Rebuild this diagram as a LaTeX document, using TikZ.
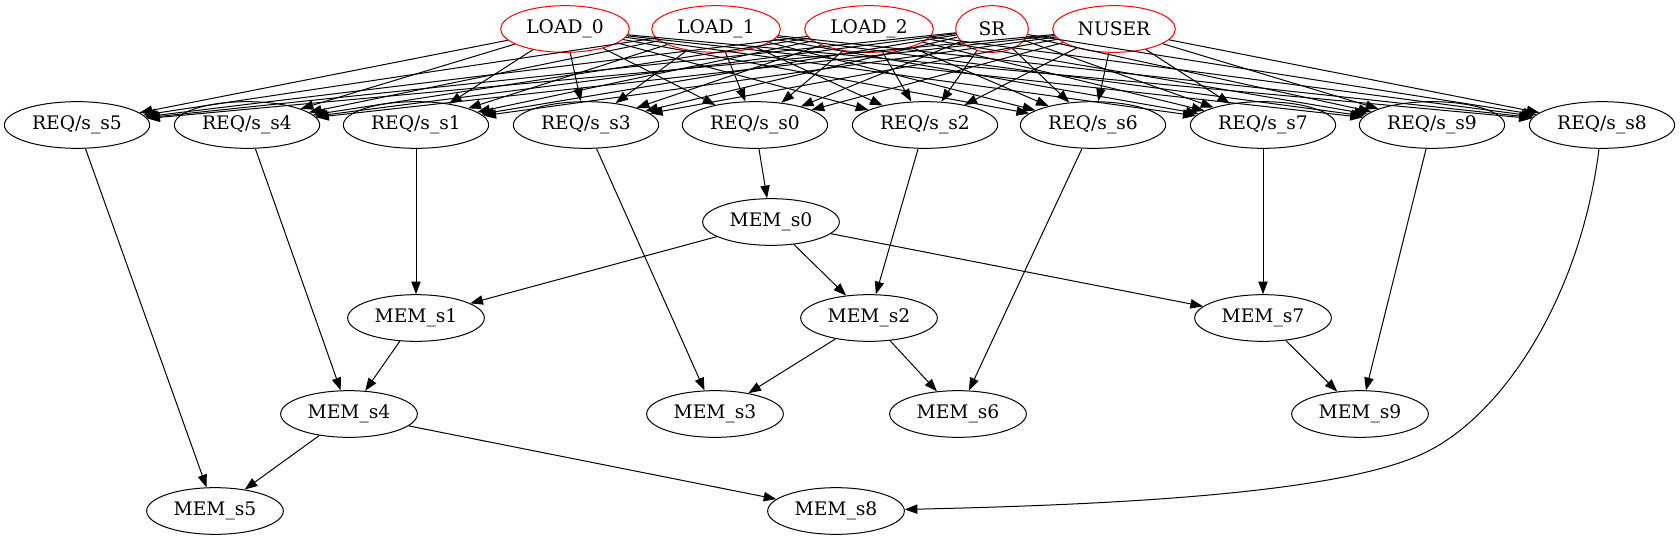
\documentclass[tikz,border=0pt]{standalone}
\usepackage{fontspec}
\setmainfont{DejaVu Serif}
\usetikzlibrary{arrows.meta,shapes.geometric}

\begin{document}
\begin{tikzpicture}[x=0.75pt,y=0.75pt,->,>={Triangle[length=9.5pt,width=7pt]},
                    line width=0.75pt,font=\fontsize{14}{16}\selectfont]
  \useasboundingbox (0,0) rectangle (1680,-539);
  \tikzset{every node/.style={ellipse,draw,inner sep=0pt,minimum height=35pt},
           src/.style={draw=red,minimum width=#1},
           req/.style={minimum width=109pt},
           mem/.style={minimum width=102.5pt}}

  % sources
  \node[src=96.5pt] (L0) at (565,-29)  {LOAD\_0};
  \node[src=96.5pt] (L1) at (716,-29)  {LOAD\_1};
  \node[src=96.5pt] (L2) at (869,-29)  {LOAD\_2};
  \node[src=54.5pt] (SR) at (992,-29)  {SR};
  \node[src=92pt]   (NU) at (1114,-29) {NUSER};

  % requests
  \node[req] (R5) at (77,-125)   {REQ/s\_s5};
  \node[req] (R4) at (247,-125)  {REQ/s\_s4};
  \node[req] (R1) at (416,-125)  {REQ/s\_s1};
  \node[req] (R3) at (586,-125)  {REQ/s\_s3};
  \node[req] (R0) at (755,-125)  {REQ/s\_s0};
  \node[req] (R2) at (925,-125)  {REQ/s\_s2};
  \node[req] (R6) at (1093,-125) {REQ/s\_s6};
  \node[req] (R7) at (1263,-125) {REQ/s\_s7};
  \node[req] (R9) at (1432,-125) {REQ/s\_s9};
  \node[req] (R8) at (1602,-125) {REQ/s\_s8};

  % memories
  \node[mem] (M0) at (771,-222)  {MEM\_s0};
  \node[mem] (M1) at (416,-318)  {MEM\_s1};
  \node[mem] (M2) at (869,-318)  {MEM\_s2};
  \node[mem] (M7) at (1263,-318) {MEM\_s7};
  \node[mem] (M4) at (349,-414)  {MEM\_s4};
  \node[mem] (M3) at (715,-414)  {MEM\_s3};
  \node[mem] (M6) at (958,-414)  {MEM\_s6};
  \node[mem] (M9) at (1360,-414) {MEM\_s9};
  \node[mem] (M5) at (215,-511)  {MEM\_s5};
  \node[mem] (M8) at (836,-511)  {MEM\_s8};

  \foreach \s in {L0,L1,L2,SR,NU}
    \foreach \r in {R5,R4,R1,R3,R0,R2,R6,R7,R9,R8}
      \path (\s) edge (\r);

  \path (R5) edge (M5)
        (R4) edge (M4)
        (R1) edge (M1)
        (R3) edge (M3)
        (R0) edge (M0)
        (R2) edge (M2)
        (R6) edge (M6)
        (R7) edge (M7)
        (R9) edge (M9)
        (M0) edge (M1) edge (M2) edge (M7)
        (M1) edge (M4)
        (M2) edge (M3) edge (M6)
        (M7) edge (M9)
        (M4) edge (M5) edge (M8);
  \draw (R8) .. controls (1580,-300) and (1500,-420) .. (1420,-455)
             .. controls (1330,-495) and (1100,-505) .. (M8);
\end{tikzpicture}
\end{document}
